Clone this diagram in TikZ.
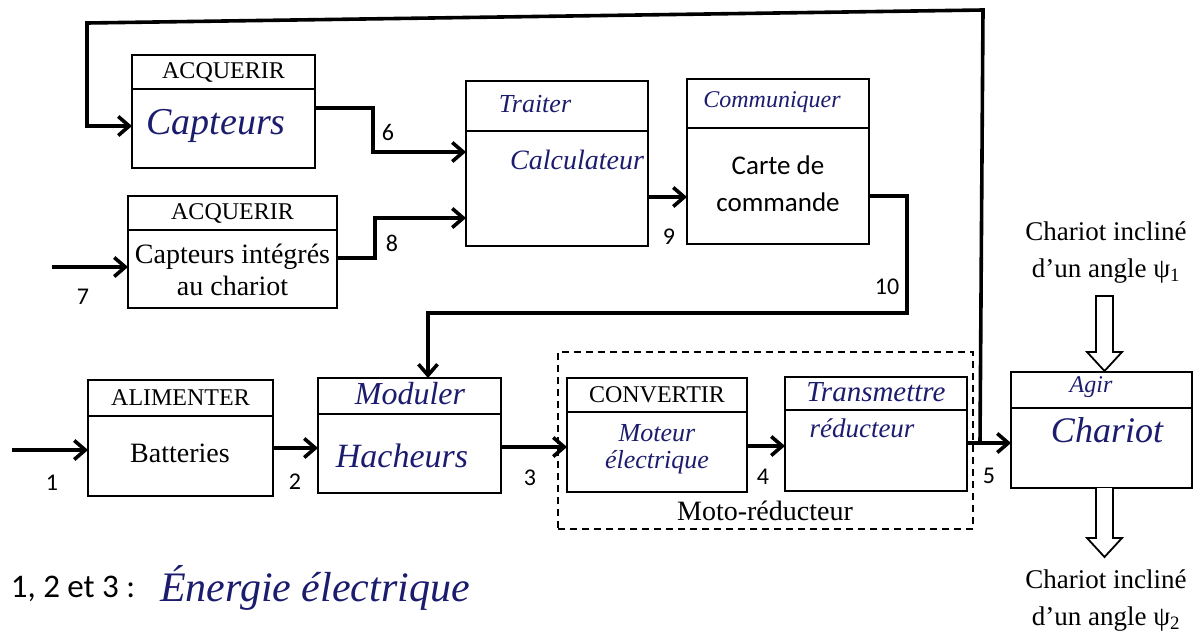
\documentclass[tikz,border=0pt]{standalone}
\usepackage{fontspec}
\setmainfont{Liberation Serif}
\newfontfamily\calib{Carlito}
\usetikzlibrary{arrows.meta,calc}
\definecolor{ink}{RGB}{28,28,110}
\newcommand\fblock[6]{%
  \node[blk, minimum width={#4-#2}, minimum height={#5-#3}] (#1) at ({(#2+#4)/2},{(#3+#5)/2}) {};
  \draw[line width=1.8pt] (#2,#6) -- (#4,#6);
}
\begin{document}
\begin{tikzpicture}[x=1pt,y=-1pt,
  blk/.style={draw, line width=1.8pt, inner sep=0pt, outer sep=0pt},
  conn/.style={line width=3.6pt, -{Straight Barb[length=11pt,width=19pt]}},
  hdr/.style={font=\fontsize{24}{28}\selectfont},
  txt/.style={font=\fontsize{28}{32}\selectfont, align=center},
  hw/.style={text=ink, align=center, font=\itshape\fontsize{#1}{#1}\selectfont},
  hw/.default=28,
  num/.style={font=\calib\fontsize{24}{24}\selectfont},
  hollow/.style={draw, line width=1.8pt, line join=miter, fill=white}
]
\useasboundingbox (0,0) rectangle (1194,632);

% blocks
\fblock{capt}{132}{55}{315}{168}{89}
\fblock{acq2}{128}{196}{337}{308}{230}
\fblock{trait}{466}{81}{648}{246}{131}
\fblock{comm}{687}{79}{869}{244}{128}
\fblock{alim}{88}{380}{273}{496}{416}
\fblock{mod}{318}{378}{501}{493}{414}
\fblock{conv}{567}{378}{747}{492}{412}
\fblock{trans}{785}{377}{967}{491}{410}
\fblock{char}{1011}{372}{1192}{488}{408}

% moto-reducteur dashed frame
\node[draw, dashed, dash pattern=on 7pt off 5pt, line width=1.6pt, inner sep=0pt,
      minimum width=415, minimum height=177] (mr) at (765.5,440.5) {};
\node[txt] (mrl) at (765,511) {Moto-réducteur};

% texts in blocks
\node[hdr] (capth) at (223.5,72) {ACQUERIR};
\node[hw=38] (captb) at (216,126) {Capteurs};
\node[hdr] (acq2h) at (232.5,213) {ACQUERIR};
\node[txt] (acq2b) at (232.5,270) {Capteurs intégrés\\au chariot};
\node[hw=26] (traith) at (535,104) {Traiter};
\node[hw=28] (traitb) at (577,160) {Calculateur};
\node[hw=24] (commh) at (772,102) {Communiquer};
\node[font=\calib\fontsize{27}{37}\selectfont, align=center] (commb) at (778,184) {Carte de\\commande};
\node[hdr] (alimh) at (180.5,398) {ALIMENTER};
\node[txt] (alimb) at (180,453) {Batteries};
\node[hw=32] (modh) at (410,394) {Moduler};
\node[hw=34] (modb) at (402,456) {Hacheurs};
\node[hdr] (convh) at (657,395) {CONVERTIR};
\node[hw=26, font=\itshape\fontsize{26}{27}\selectfont] (convb) at (657,449) {Moteur\\électrique};
\node[hw=29] (transh) at (876,392) {Transmettre};
\node[hw=27] (transb) at (862,428) {réducteur};
\node[hw=24] (charh) at (1091,387) {Agir};
\node[hw=36] (charb) at (1107,430) {Chariot};

% coordinates for connectors
\coordinate (in1) at (12,450);
\coordinate (in7) at (52,267);
\coordinate (p2) at ($(alim.north east)+(0,68)$);
\coordinate (p3) at ($(mod.north east)+(0,69)$);
\coordinate (p4) at ($(conv.north east)+(0,68)$);
\coordinate (p5) at ($(trans.north east)+(0,66)$);
\coordinate (j5) at ($(p5)+(13,0)$);

% connectors
\draw[conn] (in1) -- (in1 -| alim.west);
\draw[conn] (p2) -- (p2 -| mod.west);
\draw[conn] (p3) -- (p3 -| conv.west);
\draw[conn] (p4) -- (p4 -| trans.west);
\draw[conn] (p5) -- (p5 -| char.west);
\draw[conn] (in7) -- (in7 -| acq2.west);
\draw[conn] ($(capt.north east)+(0,53)$) -- ++(58,0) |- ($(trait.north west)+(0,71)$);
\draw[conn] ($(acq2.north east)+(0,62)$) -- ++(38,0) |- ($(trait.north west)+(0,137)$);
\draw[conn] ($(trait.north east)+(0,116)$) -- ($(comm.north west)+(0,118)$);
\draw[conn] ($(comm.north east)+(0,117)$) -- ++(38,0) |- ($(mod.north west)+(110,-65)$) -- ($(mod.north west)+(110,0)$);
\draw[conn] (j5) -- (983,10) -- (87,23) |- ($(capt.north west)+(0,71)$);

% hollow arrows
\draw[hollow] (1096,296) -- (1096,352) -- (1087,352) -- (1104.5,371) -- (1122,352) -- (1113,352) -- (1113,296) -- cycle;
\draw[hollow] (1096,488) -- (1096,538) -- (1087,538) -- (1104.5,557) -- (1122,538) -- (1113,538) -- (1113,488);

% outside texts
\node[font=\fontsize{27}{37}\selectfont, align=center] (incl1) at (1106,253) {Chariot incliné\\d'un angle ψ\textsubscript{1}};
\node[font=\fontsize{27}{37}\selectfont, align=center] (incl2) at (1106,601) {Chariot incliné\\d'un angle ψ\textsubscript{2}};

% numbers
\node[num] (n1) at (52,483) {1};
\node[num] (n2) at (295,482) {2};
\node[num] (n3) at (530,478) {3};
\node[num] (n4) at (763,477) {4};
\node[num] (n5) at (989,476) {5};
\node[num] (n6) at (388,132) {6};
\node[num] (n7) at (83,297) {7};
\node[num] (n8) at (392,243) {8};
\node[num] (n9) at (669,237) {9};
\node[num] (n10) at (887,287) {10};

% legend
\node[font=\calib\fontsize{33}{33}\selectfont] (leg) at (73,589) {1, 2 et 3 :};
\node[hw=42] (legt) at (315,588) {Énergie électrique};
\end{tikzpicture}
\end{document}
